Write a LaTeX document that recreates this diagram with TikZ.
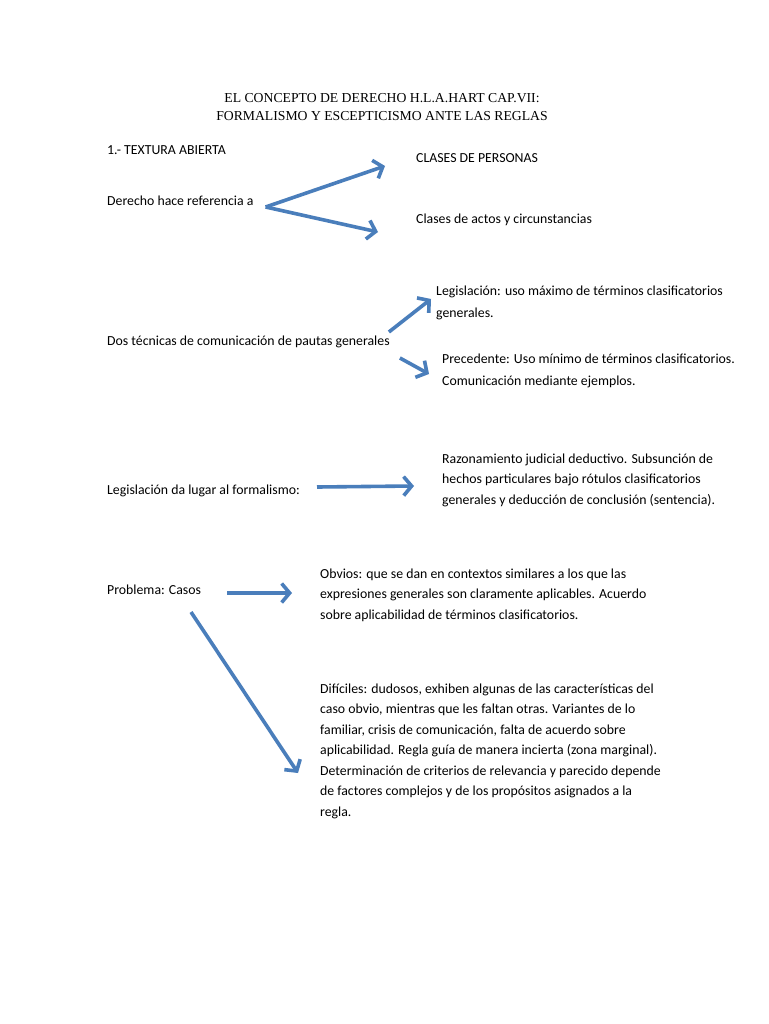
\documentclass[tikz,border=0pt]{standalone}
\usepackage{fontspec}
\setmainfont{Carlito}
\newfontfamily\titlefont{Liberation Serif}
\usetikzlibrary{arrows.meta,calc}
\definecolor{arrowblue}{HTML}{4A7EBB}
\begin{document}
\begin{tikzpicture}[x=1pt,y=-1pt,
  txt/.style={anchor=base west, inner sep=0pt, align=left, font=\fontsize{13.8}{20.5}\selectfont},
  wide/.style={font=\fontsize{13.8}{22}\selectfont},
  ttl/.style={anchor=base, inner sep=0pt, align=center, font=\titlefont\fontsize{13.7}{18}\selectfont},
  arr/.style={draw=arrowblue, line width=3.6pt, -{Straight Barb[length=8pt,width=19pt]}}]
\fill[white] (0,0) rectangle (768,1024);
\useasboundingbox (0,0) rectangle (768,1024);

\node[ttl] (title) at (382,121) {EL CONCEPTO DE DERECHO H.L.A.HART CAP.VII:\\FORMALISMO Y ESCEPTICISMO ANTE LAS REGLAS};

\node[txt] (sec) at (107,155) {1.- TEXTURA ABIERTA};
\node[txt] (clases) at (416,163) {CLASES DE PERSONAS};
\node[txt] (derecho) at (107,206) {Derecho hace referencia a};
\node[txt] (actos) at (416,223) {Clases de actos y circunstancias};

\node[txt,wide] (legis) at (436,317) {Legislación: uso máximo de términos clasificatorios\\generales.};
\node[txt] (dos) at (107,345) {Dos técnicas de comunicación de pautas generales};
\node[txt,wide] (prec) at (442,385) {Precedente: Uso mínimo de términos clasificatorios.\\Comunicación mediante ejemplos.};

\node[txt] (form) at (107,494) {Legislación da lugar al formalismo:};
\node[txt] (raz) at (442,504) {Razonamiento judicial deductivo. Subsunción de\\hechos particulares bajo rótulos clasificatorios\\generales y deducción de conclusión (sentencia).};

\node[txt] (casos) at (107,594) {Problema: Casos};
\node[txt] (obvios) at (320,619) {Obvios: que se dan en contextos similares a los que las\\expresiones generales son claramente aplicables. Acuerdo\\sobre aplicabilidad de términos clasificatorios.};
\node[txt] (dif) at (320,816) {Difíciles: dudosos, exhiben algunas de las características del\\caso obvio, mientras que les faltan otras. Variantes de lo\\familiar, crisis de comunicación, falta de acuerdo sobre\\aplicabilidad. Regla guía de manera incierta (zona marginal).\\Determinación de criterios de relevancia y parecido depende\\de factores complejos y de los propósitos asignados a la\\regla.};

\draw[arr] ($(derecho.base east)+(12,1)$) -- ($(clases.base west)+(-31,3)$);
\draw[arr] ($(derecho.base east)+(12,1)$) -- ($(actos.base west)+(-38,9)$);
\draw[arr] ($(dos.base east)+(-1,-13)$) -- ($(legis.base west)+(-5,-18)$);
\draw[arr] ($(dos.base east)+(10,13)$) -- ($(prec.base west)+(-13,-11)$);
\draw[arr] ($(form.base east)+(17,-7)$) -- ($(raz.base west)+(-28,-18)$);
\draw[arr] ($(casos.base east)+(26,-1)$) -- ($(obvios.base west)+(-28,-26)$);
\draw[arr] ($(casos.base west)+(84,18)$) -- ($(dif.base west)+(-22,-43)$);
\end{tikzpicture}
\end{document}
